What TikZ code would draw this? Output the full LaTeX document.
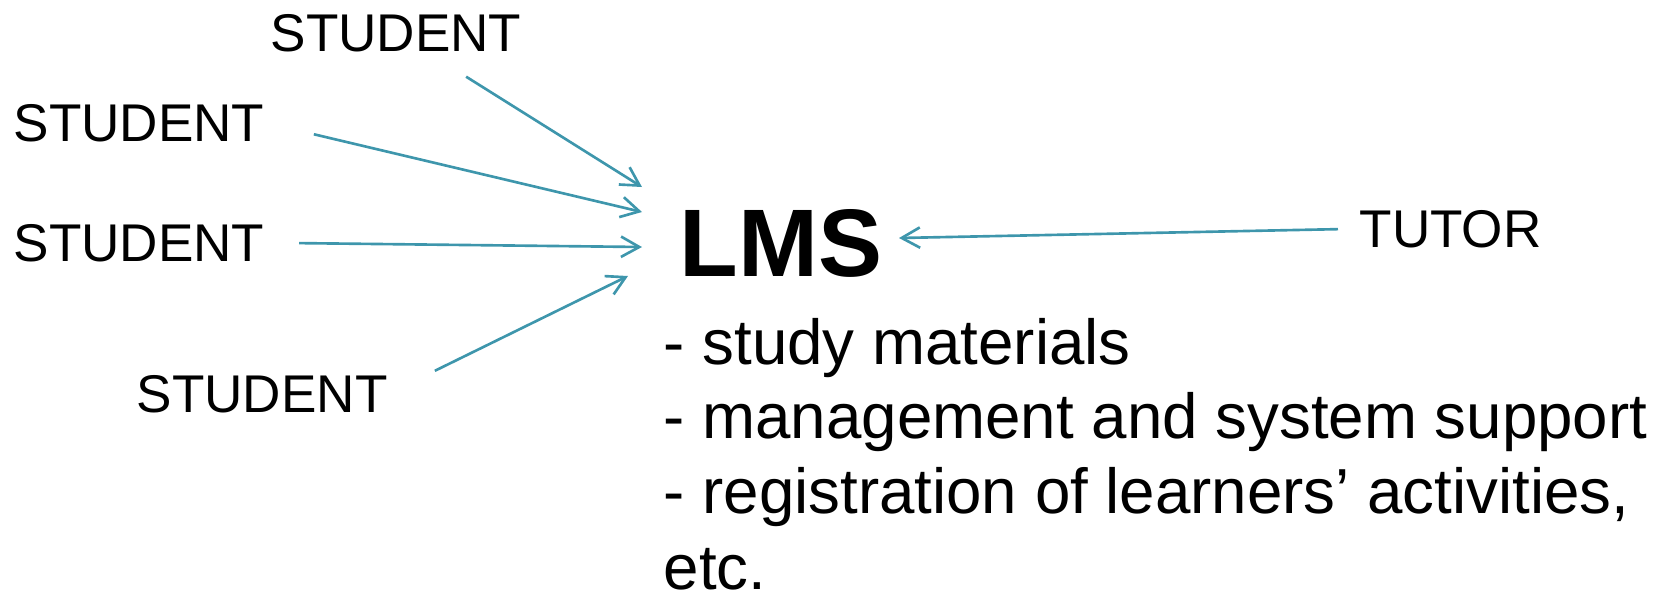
\documentclass[tikz,border=0pt]{standalone}
\usepackage{fontspec}
\setmainfont{Liberation Sans}
\usetikzlibrary{arrows.meta}
\definecolor{lmsteal}{RGB}{62,150,172}
\tikzset{
  who/.style={font=\fontsize{15.1}{18}\selectfont, inner sep=0pt, anchor=base west},
  item/.style={font=\fontsize{18.1}{21}\selectfont, inner sep=0pt, anchor=base west},
  link/.style={draw=lmsteal, line width=0.75pt, -{Straight Barb[length=5.2pt,width=5.8pt]}}
}
\begin{document}
\begin{tikzpicture}[x=0.01cm, y=-0.01cm]
        \useasboundingbox (0,0) rectangle (1662,596);

        % Studenti e tutor
        \node[who] (s1) at (270,51) {STUDENT};
        \node[who] (s2) at (13,141) {STUDENT};
        \node[who] (s3) at (13,261) {STUDENT};
        \node[who] (s4) at (136,412) {STUDENT};
        \node[who] (tutor) at (1359,247) {TUTOR};

        % Piattaforma
        \node[inner sep=0pt, anchor=base west, font=\fontsize{27.3}{30}\selectfont\bfseries] (lms) at (679,276) {LMS};

        % Punte delle frecce
        \coordinate (c1) at (642,187);
        \coordinate (c2) at (642,212);
        \coordinate (c3) at (642,247);
        \coordinate (c4) at (628,276);
        \coordinate (ct) at (899,238);

        % Frecce
        \draw[link, shorten <=0.46cm] (s1) -- (c1);
        \draw[link, shorten <=0.5cm] (s2.east) -- (c2);
        \draw[link, shorten <=0.34cm] (s3.east) -- (c3);
        \draw[link, shorten <=0.52cm] (s4.east) -- (c4);
        \draw[link, shorten <=0.21cm] (tutor.west) -- (ct);

        % Elenco
        \node[item] (m1) at (663,364) {- study materials};
        \node[item] (m2) at (663,438) {- management and system support};
        \node[item] (m3) at (663,513) {- registration of learners’ activities,};
        \node[item] (m4) at (663,589) {etc.};
\end{tikzpicture}
\end{document}
